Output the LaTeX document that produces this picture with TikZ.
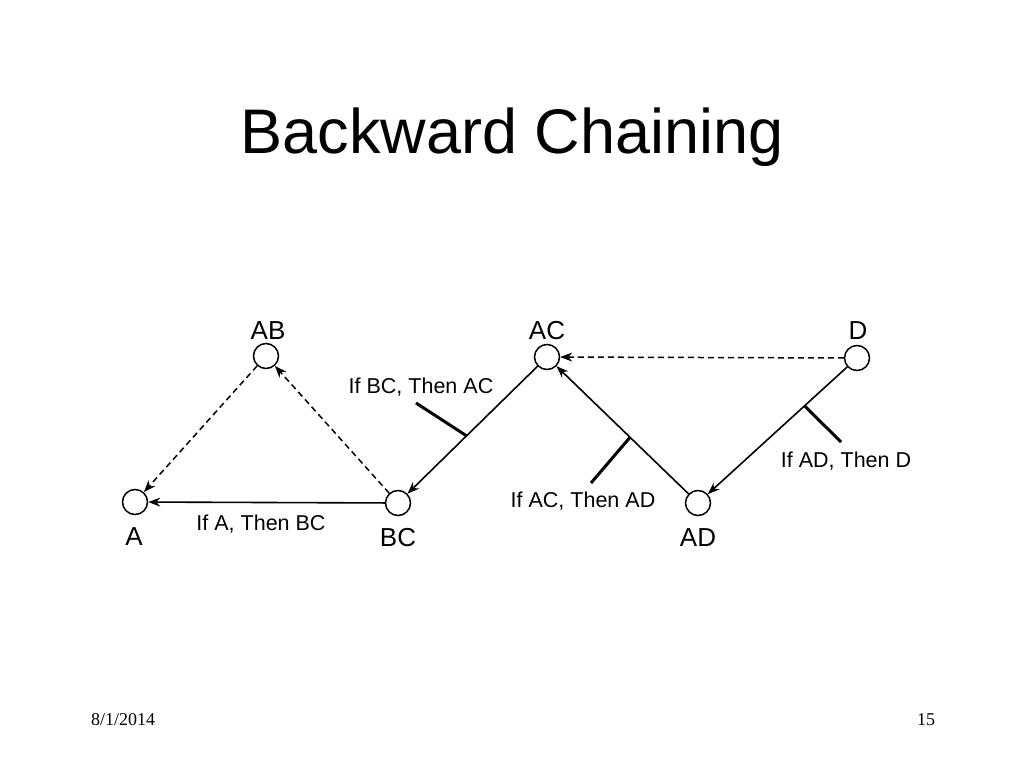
\documentclass[tikz,border=0pt]{standalone}
\usepackage{fontspec}
\setmainfont{Liberation Sans}
\newfontfamily\serifft{Liberation Serif}
\usetikzlibrary{arrows.meta,calc}
\begin{document}
\begin{tikzpicture}[x=1pt,y=-1pt,
  state/.style={circle,draw,line width=1.5pt,minimum size=25pt,inner sep=0pt},
  vlabel/.style={font=\fontsize{26}{30}\selectfont,anchor=base},
  elabel/.style={font=\fontsize{21.5}{25}\selectfont,anchor=base},
  rule/.style={line width=1.6pt,-{Stealth[length=12pt,width=9pt]}},
  hint/.style={line width=1.5pt,dash pattern=on 6pt off 4pt,-{Stealth[length=12pt,width=9pt]}},
  tick/.style={line width=3pt}]
\useasboundingbox (0,0) rectangle (1024,768);
\node[anchor=base,font=\fontsize{63}{72}\selectfont] (title) at (512,153) {Backward Chaining};
% states
\node[state] (A) at (135,502) {};
\node[state] (AB) at (266,356) {};
\node[state] (BC) at (398,503) {};
\node[state] (AC) at (547,357) {};
\node[state] (AD) at (698,503) {};
\node[state] (D) at (857,358) {};
% state labels
\node[vlabel] (lA) at (134,545) {A};
\node[vlabel] (lAB) at (268,339) {AB};
\node[vlabel] (lBC) at (398,546) {BC};
\node[vlabel] (lAC) at (547,339) {AC};
\node[vlabel] (lAD) at (698,546) {AD};
\node[vlabel] (lD) at (858,339) {D};
% rules
\draw[rule] (BC) -- (A);
\draw[rule] (AC) -- (BC);
\draw[rule] (AD) -- (AC);
\draw[rule] (D) -- (AD);
% dashed
\draw[hint] (BC) -- (AB);
\draw[hint] (AB) -- (A);
\draw[hint] (D) -- (AC);
% ticks
\coordinate (t1) at ($(AC)!0.54!(BC)$);
\coordinate (t1e) at (416,403);
\draw[tick] (t1) -- (t1e);
\coordinate (t2) at ($(AD)!0.45!(AC)$);
\coordinate (t2e) at (591,483);
\draw[tick] (t2) -- (t2e);
\coordinate (t3) at ($(D)!0.33!(AD)$);
\coordinate (t3e) at (841,442);
\draw[tick] (t3) -- (t3e);
% rule labels
\node[elabel] (r1) at (261,530) {If A, Then BC};
\node[elabel] (r2) at (421,393) {If BC, Then AC};
\node[elabel] (r3) at (583,507) {If AC, Then AD};
\node[elabel] (r4) at (846,467) {If AD, Then D};
% footer
\node[anchor=base,font=\serifft\fontsize{18}{22}\selectfont] (date) at (123,725) {8/1/2014};
\node[anchor=base,font=\serifft\fontsize{18}{22}\selectfont] (page) at (926,725) {15};
\end{tikzpicture}
\end{document}
